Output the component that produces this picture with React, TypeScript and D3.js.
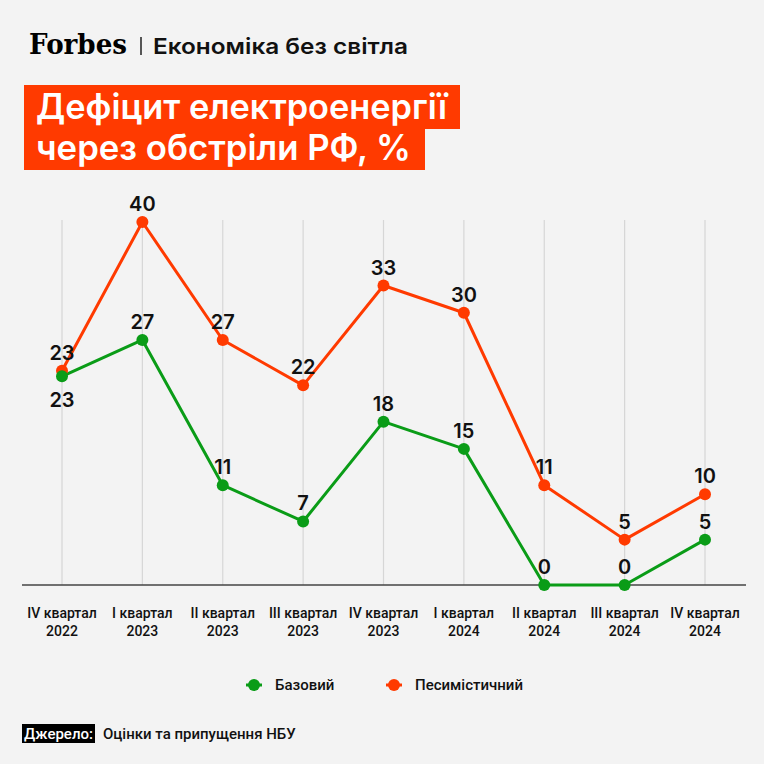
import { useEffect, useRef } from "react";
import * as d3 from "d3";

const quarters = [
  ["IV квартал", "2022"],
  ["I квартал", "2023"],
  ["II квартал", "2023"],
  ["III квартал", "2023"],
  ["IV квартал", "2023"],
  ["I квартал", "2024"],
  ["II квартал", "2024"],
  ["III квартал", "2024"],
  ["IV квартал", "2024"],
];
const baseValues = [23, 27, 11, 7, 18, 15, 0, 0, 5];
const pessValues = [23.6, 40, 27, 22, 33, 30, 11, 5, 10];
const baseLabels = ["23", "27", "11", "7", "18", "15", "0", "0", "5"];
const pessLabels = ["23", "40", "27", "22", "33", "30", "11", "5", "10"];
const seriesNames = ["Базовий", "Песимістичний"];

const GREEN = "#0a9c17";
const RED = "#ff3a00";
const BG = "#f3f3f3";
const SMALL_FONT = "Roboto, 'Liberation Sans', sans-serif";

export default function App() {
  const ref = useRef<SVGSVGElement>(null);

  useEffect(() => {
    document.body.style.margin = "0";
    document.body.style.background = BG;
    document.documentElement.style.background = BG;
    const svg = d3.select(ref.current);
    svg.selectAll("*").remove();
    const W = 764;
    const H = 764;

    svg.append("rect").attr("width", W).attr("height", H).attr("fill", BG);

    // header
    svg
      .append("text")
      .attr("x", 29)
      .attr("y", 54)
      .attr("font-family", "'DejaVu Serif', 'Liberation Serif', serif")
      .attr("font-weight", "bold")
      .attr("font-size", 27)
      .attr("textLength", 98)
      .attr("lengthAdjust", "spacingAndGlyphs")
      .text("Forbes");
    svg
      .append("line")
      .attr("x1", 141)
      .attr("x2", 141)
      .attr("y1", 37)
      .attr("y2", 55)
      .attr("stroke", "#222")
      .attr("stroke-width", 1.5);
    svg
      .append("text")
      .attr("x", 153)
      .attr("y", 54)
      .attr("font-family", "Inter, Roboto, sans-serif")
      .attr("font-weight", 600)
      .attr("font-size", 22)
      .attr("textLength", 255)
      .attr("lengthAdjust", "spacingAndGlyphs")
      .attr("fill", "#111")
      .text("Економіка без світла");

    // title boxes
    const titleLines = [
      { text: "Дефіцит електроенергії", w: 436, y: 85, tl: 411 },
      { text: "через обстріли РФ, %", w: 401, y: 126, tl: 375 },
    ];
    titleLines.forEach((t) => {
      svg.append("rect").attr("x", 24).attr("y", t.y).attr("width", t.w).attr("height", 44).attr("fill", RED);
    });
    titleLines.forEach((t) => {
      svg
        .append("text")
        .attr("x", 36)
        .attr("y", t.y + 34)
        .attr("font-family", "Inter, Roboto, sans-serif")
        .attr("font-weight", 600)
        .attr("font-size", 35)
        .attr("textLength", t.tl)
        .attr("lengthAdjust", "spacingAndGlyphs")
        .attr("fill", "#fff")
        .text(t.text);
    });

    // scales
    const x = d3
      .scalePoint<number>()
      .domain(d3.range(quarters.length))
      .range([62, 705]);
    const y = d3.scaleLinear().domain([0, 40]).range([585, 222]);

    // grid
    svg
      .append("g")
      .selectAll("line")
      .data(d3.range(quarters.length))
      .join("line")
      .attr("x1", (d) => x(d)!)
      .attr("x2", (d) => x(d)!)
      .attr("y1", 220)
      .attr("y2", 585)
      .attr("stroke", "#d6d6d6")
      .attr("stroke-width", 1.2);

    // baseline
    svg
      .append("line")
      .attr("x1", 22)
      .attr("x2", 746)
      .attr("y1", 585)
      .attr("y2", 585)
      .attr("stroke", "#444")
      .attr("stroke-width", 1.5);

    // x labels
    const xl = svg.append("g");
    quarters.forEach((q, i) => {
      q.forEach((line, j) => {
        xl.append("text")
          .attr("x", x(i)!)
          .attr("y", 618 + j * 18)
          .attr("text-anchor", "middle")
          .attr("font-family", SMALL_FONT)
          .attr("font-weight", 500)
          .attr("font-size", 14)
          .attr("fill", "#111")
          .text(line);
      });
    });

    const line = d3
      .line<number>()
      .x((_, i) => x(i)!)
      .y((d) => y(d));

    const series = [
      { values: pessValues, labels: pessLabels, color: RED },
      { values: baseValues, labels: baseLabels, color: GREEN },
    ];

    series.forEach((s) => {
      svg
        .append("path")
        .datum(s.values)
        .attr("d", line)
        .attr("fill", "none")
        .attr("stroke", s.color)
        .attr("stroke-width", 3)
        .attr("stroke-linejoin", "round");
    });
    series.forEach((s) => {
      svg
        .append("g")
        .selectAll("circle")
        .data(s.values)
        .join("circle")
        .attr("cx", (_, i) => x(i)!)
        .attr("cy", (d) => y(d))
        .attr("r", 6)
        .attr("fill", s.color);
    });

    // value labels
    series.forEach((s, si) => {
      svg
        .append("g")
        .selectAll("text")
        .data(s.values)
        .join("text")
        .attr("x", (_, i) => x(i)!)
        .attr("y", (d, i) => (si === 1 && i === 0 ? y(d) + 31 : y(d) - 11))
        .attr("text-anchor", "middle")
        .attr("font-family", "Inter, Roboto, sans-serif")
        .attr("font-weight", 600)
        .attr("font-size", 20)
        .attr("fill", "#111")
        .text((_, i) => s.labels[i]);
    });

    // legend
    const legend = [
      { name: seriesNames[0], color: GREEN, x: 254 },
      { name: seriesNames[1], color: RED, x: 394 },
    ];
    legend.forEach((l) => {
      svg
        .append("line")
        .attr("x1", l.x - 8)
        .attr("x2", l.x + 8)
        .attr("y1", 685)
        .attr("y2", 685)
        .attr("stroke", l.color)
        .attr("stroke-width", 3);
      svg.append("circle").attr("cx", l.x).attr("cy", 685).attr("r", 6).attr("fill", l.color);
      svg
        .append("text")
        .attr("x", l.x + 21)
        .attr("y", 690)
        .attr("font-family", SMALL_FONT)
        .attr("font-weight", 500)
        .attr("font-size", 15)
        .attr("fill", "#111")
        .text(l.name);
    });

    // source
    svg.append("rect").attr("x", 22).attr("y", 724).attr("width", 73).attr("height", 19).attr("fill", "#000");
    svg
      .append("text")
      .attr("x", 58.5)
      .attr("y", 739)
      .attr("text-anchor", "middle")
      .attr("font-family", SMALL_FONT)
      .attr("font-weight", 500)
      .attr("font-size", 15)
      .attr("fill", "#fff")
      .text("Джерело:");
    svg
      .append("text")
      .attr("x", 103)
      .attr("y", 739)
      .attr("font-family", SMALL_FONT)
      .attr("font-weight", 500)
      .attr("font-size", 15)
      .attr("fill", "#111")
      .text("Оцінки та припущення НБУ");
  }, []);

  return <svg ref={ref} width={764} height={764} style={{ display: "block" }} />;
}
